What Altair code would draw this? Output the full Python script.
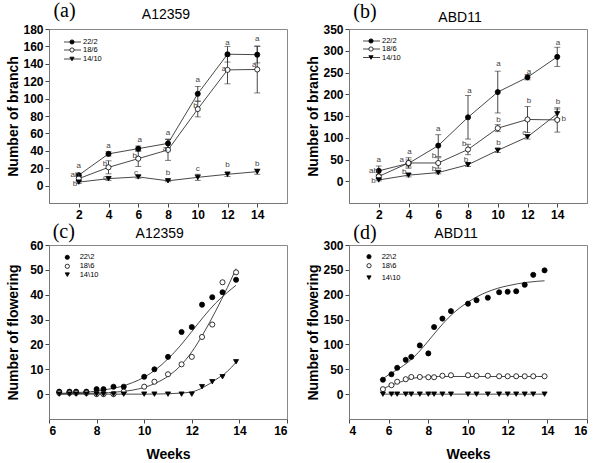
import altair as alt
import pandas as pd

SANS = "Liberation Sans"
SERIF = "Liberation Serif"

# ---------------- data ----------------
branch_weeks = [2, 4, 6, 8, 10, 12, 14]
branch_series = ["22/2", "18/6", "14/10"]
flower_series = ["22\\2", "18\\6", "14\\10"]

# (a) A12359 - number of branch
a_22 = [12, 36.5, 42.5, 48.5, 105.5, 151, 150.5]
a_22_err = [2, 2.5, 3, 5, 8.5, 9, 9.5]
a_18 = [8, 21, 31, 41, 88, 133, 133.5]
a_18_err = [3, 7.5, 9, 12, 9, 16, 27]
a_14 = [4, 8, 10, 5.5, 9.5, 13, 16]
a_14_err = [1.5, 2, 1.5, 1, 3.5, 2.5, 3]
a_letter_x = [2, 1.74, 1.74, 4, 3.76, 3.76, 6.1, 5.76, 5.85, 8, 7.8, 8,
              10, 9.85, 10, 12, 11.76, 12, 14, 13.8, 14]
a_letter_y = [22.6, 12, 2, 45.6, 25, 9, 52, 34, 14.5, 60.5, 42, 14.5,
              121, 91, 19.5, 164, 134.5, 24, 168, 139, 25]
a_letter_t = ["a", "ab", "b", "a", "b", "c", "a", "b", "c", "a", "a", "b",
              "a", "b", "c", "a", "a", "b", "a", "a", "b"]

# (b) ABD11 - number of branch
b_22 = [24, 41, 82, 147, 205, 239, 286]
b_22_err = [11, 8, 25, 50, 48, 6, 22]
b_18 = [11, 42, 42, 73, 122, 142, 141]
b_18_err = [5, 12, 12, 12, 8, 30, 28]
b_14 = [3, 14, 20, 38, 71, 102, 155]
b_14_err = [2, 4, 3, 4, 5, 5, 11]
b_letter_x = [2, 1.65, 1.65, 4.07, 3.54, 3.71, 6, 5.71, 5.71, 8.1, 7.74, 7.87,
              10.05, 10.05, 10.05, 12.1, 12.1, 11.78, 14.05, 14.05, 14.44]
b_letter_y = [48.5, 23.5, 0.5, 68, 48.5, 21, 121, 57.6, 28, 208, 86, 48.5,
              270, 141.7, 89, 251, 185, 110.6, 316.7, 183, 144]
b_letter_t = ["a", "ab", "b", "a", "a", "b", "a", "b", "b", "a", "b", "b",
              "a", "b", "b", "a", "b", "c", "a", "b", "b"]

# (c) A12359 - number of flowering
c_weeks = [6.43, 6.86, 7.14, 7.57, 8.0, 8.29, 8.71, 9.14, 10.0, 10.43, 11.0,
           11.57, 12.0, 12.43, 12.86, 13.29, 13.86]
c_22 = [1, 1, 1, 1, 2, 2, 3, 3, 7, 10, 15, 25, 27, 36, 39, 41, 46]
c_18 = [0.5, 0.5, 0.5, 0.5, 0, 0, 0, 1, 3, 5, 8, 12, 15, 23, 28, 45, 49]
c_14 = [0, 0, 0, 0, 0, 0, 0, 0, 0, 0, 0, 0, 0, 3, 5, 7, 13]
c_fit_x = [6.43, 7.0, 7.5, 8.0, 8.5, 9.0, 9.5, 10.0, 10.5, 11.0, 11.5, 12.0,
           12.5, 13.0, 13.5, 13.86]
c_22_fit = [0.3, 0.5, 0.8, 1.2, 2.0, 3.0, 4.6, 6.8, 10.0, 14.2, 19.3, 25.2,
            31.2, 36.6, 41.0, 43.8]
c_18_fit = [0.1, 0.2, 0.3, 0.4, 0.6, 1.0, 1.6, 2.7, 4.5, 7.2, 11.2, 17.0,
            24.6, 33.4, 43.0, 50.5]
c_14_fit = [0, 0, 0, 0, 0, 0, 0, 0, 0.05, 0.15, 0.4, 0.9, 2.8, 5.8, 9.2, 12.8]

# (d) ABD11 - number of flowering
d_weeks = [5.71, 6.14, 6.43, 6.86, 7.14, 7.57, 8.0, 8.29, 8.71, 9.14, 10.0,
           10.43, 11.0, 11.57, 12.0, 12.43, 12.86, 13.29, 13.86]
d_22 = [29, 40, 53, 69, 75, 98, 82, 135, 152, 167, 182, 189, 194, 205, 206,
        207, 220, 240, 249]
d_18 = [10, 18, 25, 30, 34.5, 34.5, 34, 34, 37, 38, 38, 37, 37, 36, 36, 36,
        36, 36, 36]
d_14 = [0, 0, 0, 0, 0, 0, 0, 0, 0, 0, 0, 0, 0, 0, 0, 0, 0, 0, 0]
d_fit_x = [5.71, 6.0, 6.5, 7.0, 7.5, 8.0, 8.5, 9.0, 9.5, 10.0, 10.5, 11.0,
           11.5, 12.0, 12.5, 13.0, 13.5, 13.86]
d_22_fit = [31, 39, 51, 65, 84, 107, 131, 153, 171, 185, 197, 206, 213, 218,
            222, 225, 227, 228]
d_18_fit = [10.5, 16, 23, 30, 33.5, 35, 35.5, 35.5, 35.5, 35.5, 35.5, 35.5,
            35.5, 35.5, 35.5, 35.5, 35.5, 35.5]
d_14_fit = [0, 0, 0, 0, 0, 0, 0, 0, 0, 0, 0, 0, 0, 0, 0, 0, 0, 0]

panel_tags = ["(a)", "(b)", "(c)", "(d)"]
panel_names = ["A12359", "ABD11", "A12359", "ABD11"]

SHAPES = ["circle", "circle", "triangle-down"]
FILLS = ["black", "white", "black"]
W, H = 238, 174
LINE = "#333333"


def long_df(xs, series_vals, names, errs=None):
    rows = []
    for k, (vals, name) in enumerate(zip(series_vals, names)):
        for i, (x, v) in enumerate(zip(xs, vals)):
            r = {"x": x, "y": v, "series": name, "order": k}
            if errs is not None:
                r["lo"] = v - errs[k][i]
                r["hi"] = v + errs[k][i]
            rows.append(r)
    return pd.DataFrame(rows)


def text_layer(txt, px, py, size, font, weight="normal"):
    return alt.Chart(pd.DataFrame({"t": [txt]})).mark_text(
        font=font, fontSize=size, fontWeight=weight, baseline="middle",
        align="center"
    ).encode(x=alt.value(px), y=alt.value(py), text="t:N",
             color=alt.value("black"))


def legend_layers(names, with_line, x_line0, x_mark, x_text, ys):
    layers = []
    for i, name in enumerate(names):
        df = pd.DataFrame({"t": [name]})
        if with_line:
            layers.append(alt.Chart(df).mark_rule(color=LINE, strokeWidth=0.9).encode(
                x=alt.value(x_line0), x2=alt.value(x_line0 + 17), y=alt.value(ys[i])))
        layers.append(alt.Chart(df).mark_point(
            filled=True, size=18, shape=SHAPES[i], fill=FILLS[i], stroke="black",
            strokeWidth=0.8, opacity=1).encode(x=alt.value(x_mark), y=alt.value(ys[i])))
        layers.append(alt.Chart(df).mark_text(
            font=SANS, fontSize=7.5, align="left", baseline="middle"
        ).encode(x=alt.value(x_text), y=alt.value(ys[i]), text="t:N",
                 color=alt.value("black")))
    return layers


def panel(pts, names, x_dom, x_vals, y_dom, y_vals, y_title, x_title,
          tag, name, tag_pos, name_pos, fits=None, letters=None,
          legend_line=True, legend_pos=None):
    xs = alt.Scale(domain=x_dom, nice=False, zero=False)
    ys = alt.Scale(domain=y_dom, nice=False, zero=False)
    xax = alt.Axis(values=x_vals, title=x_title if x_title else None,
                   titleY=35, titleBaseline="middle", labelOverlap=False)
    yax = alt.Axis(values=y_vals, title=y_title, titleX=-36,
                   titleBaseline="middle", labelOverlap=False)
    base = alt.Chart(pts)
    X = alt.X("x:Q", scale=xs, axis=xax)
    Y = alt.Y("y:Q", scale=ys, axis=yax)
    layers = []
    if fits is None:
        layers.append(base.mark_line(color=LINE, strokeWidth=0.9).encode(
            x=X, y=Y, detail="series:N", order="x:Q"))
        layers.append(base.mark_errorbar(ticks={"size": 6}, color=LINE, thickness=0.9).encode(
            x=X, y=alt.Y("lo:Q", scale=ys, axis=yax), y2="hi:Q"))
    else:
        layers.append(alt.Chart(fits).mark_line(
            color=LINE, strokeWidth=0.9, interpolate="monotone").encode(
            x=X, y=Y, detail="series:N", order="x:Q"))
    layers.append(base.mark_point(filled=True, size=26, stroke="black",
                                  strokeWidth=0.8, opacity=1).encode(
        x=X, y=Y,
        shape=alt.Shape("series:N", scale=alt.Scale(domain=names, range=SHAPES), legend=None),
        fill=alt.Fill("series:N", scale=alt.Scale(domain=names, range=FILLS), legend=None),
    ))
    if letters is not None:
        layers.append(alt.Chart(letters).mark_text(
            font=SANS, fontSize=8, baseline="middle", align="center"
        ).encode(x=alt.X("lx:Q", scale=xs, axis=xax),
                 y=alt.Y("ly:Q", scale=ys, axis=yax), text="lt:N",
                 color=alt.value("#444444")))
    layers += legend_layers(names, legend_line, *legend_pos)
    layers.append(text_layer(tag, tag_pos[0], tag_pos[1], 20, SERIF))
    layers.append(text_layer(name, name_pos[0], name_pos[1], 14, SANS))
    return alt.layer(*layers).properties(width=W, height=H)


pa = long_df(branch_weeks, [a_22, a_18, a_14], branch_series, [a_22_err, a_18_err, a_14_err])
pb = long_df(branch_weeks, [b_22, b_18, b_14], branch_series, [b_22_err, b_18_err, b_14_err])
pc = long_df(c_weeks, [c_22, c_18, c_14], flower_series)
pd_ = long_df(d_weeks, [d_22, d_18, d_14], flower_series)
fc = long_df(c_fit_x, [c_22_fit, c_18_fit, c_14_fit], flower_series)
fd = long_df(d_fit_x, [d_22_fit, d_18_fit, d_14_fit], flower_series)
la = pd.DataFrame({"lx": a_letter_x, "ly": a_letter_y, "lt": a_letter_t})
lb = pd.DataFrame({"lx": b_letter_x, "ly": b_letter_y, "lt": b_letter_t})

chart_a = panel(pa, branch_series, [0, 16], branch_weeks, [-20, 180],
                list(range(0, 181, 20)), "Number of branch", None,
                panel_tags[0], panel_names[0], (15.5, -18.5), (117, -14),
                letters=la, legend_line=True,
                legend_pos=(15, 23, 34, [13, 21, 30]))
chart_b = panel(pb, branch_series, [0, 16], branch_weeks, [-50, 350],
                list(range(0, 351, 50)), "Number of branch", None,
                panel_tags[1], panel_names[1], (16, -16.7), (111, -11.5),
                letters=lb, legend_line=True,
                legend_pos=(14, 22, 33, [12, 20, 28.5]))
chart_c = panel(pc, flower_series, [6, 16], [6, 8, 10, 12, 14, 16], [-10, 60],
                list(range(0, 61, 10)), "Number of flowering", "Weeks",
                panel_tags[2], panel_names[2], (14.8, -13.3), (110.7, -11.3),
                fits=fc, legend_line=False,
                legend_pos=(0, 18.3, 30.7, [12.3, 21.3, 29.7]))
chart_d = panel(pd_, flower_series, [4, 16], [4, 6, 8, 10, 12, 14, 16], [-50, 300],
                list(range(0, 301, 50)), "Number of flowering", "Weeks",
                panel_tags[3], panel_names[3], (16, -12), (107, -11),
                fits=fd, legend_line=False,
                legend_pos=(0, 20, 32.7, [11.7, 20.7, 32.7]))

chart = alt.concat(chart_a, chart_b, chart_c, chart_d, columns=2,
                   spacing={"row": 0, "column": 17}).properties(
    padding={"left": 5, "top": 0, "right": 5, "bottom": 0},
    background="white",
).configure_view(stroke="#888888", strokeWidth=1).configure_axis(
    grid=False, domainColor="#777777", tickColor="#444444", tickSize=4,
    labelFont=SANS, labelFontSize=12, labelFontWeight="bold", labelColor="black",
    labelPadding=2, titleFont=SANS, titleFontSize=14, titleFontWeight="bold",
    titleColor="black",
)

chart.save("out.html", embed_options={"renderer": "svg", "actions": False})
